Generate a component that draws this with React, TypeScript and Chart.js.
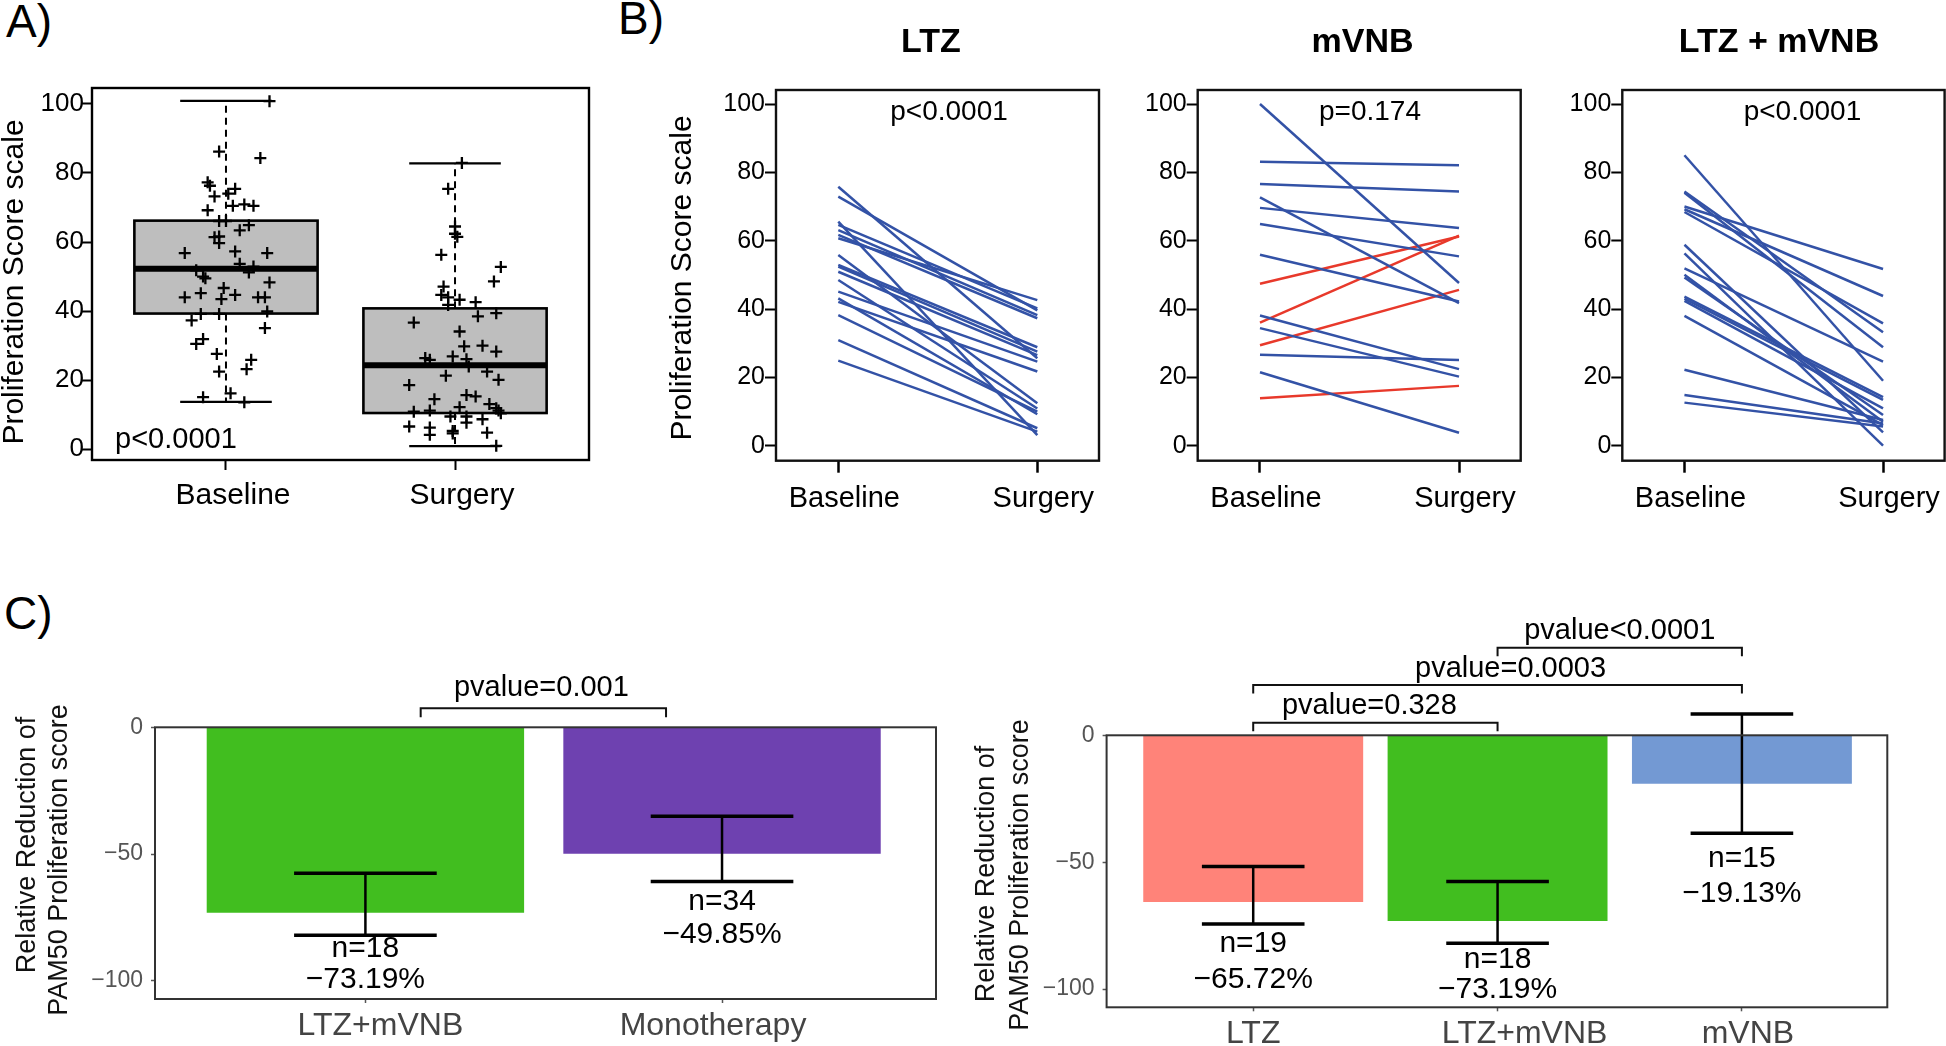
import React, { useEffect, useRef } from 'react';
import { Chart, registerables } from 'chart.js';

Chart.register(...registerables);

const FONT = '"Liberation Sans", Arial, Helvetica, sans-serif';

/* ================= DATA ================= */
// Panel A – box plot + jittered points
const groupsA = ['Baseline', 'Surgery'];
const whiskerLowA = [13.7, 0.9];
const q1A = [39.3, 10.5];
const medianA = [52.3, 24.3];
const q3A = [66.2, 40.8];
const whiskerHighA = [100.9, 82.8];
const baselineScores = [100.8, 86.2, 84.3, 77.3, 76.3, 73.2, 75.4, 74.0, 69.2, 70.5, 70.9, 70.5, 66.1, 66.1, 64.9, 63.4, 61.4, 61.6, 59.7, 56.8, 57.3, 56.8, 53.7, 52.9, 51.2, 51.8, 50.0, 49.5, 48.3, 46.7, 44.7, 43.5, 44.0, 45.2, 44.0, 44.0, 39.2, 39.2, 39.9, 37.3, 35.1, 31.9, 30.5, 27.6, 25.9, 23.2, 22.5, 16.2, 15.1, 13.6];
const baselineJitter = [0.19, -0.03, 0.15, -0.08, -0.07, -0.05, 0.04, 0.01, -0.08, 0.03, 0.08, 0.12, -0.03, 0.0, 0.10, 0.06, -0.05, -0.03, -0.03, -0.18, 0.04, 0.18, 0.06, 0.12, 0.10, -0.13, -0.10, -0.09, 0.19, -0.01, 0.04, -0.02, -0.18, -0.11, 0.14, 0.17, -0.11, -0.03, 0.18, -0.15, 0.17, -0.10, -0.13, -0.04, 0.11, 0.09, -0.03, 0.02, -0.10, 0.08];
const surgeryScores = [82.9, 75.4, 64.5, 62.4, 61.5, 56.3, 52.8, 48.6, 47.1, 44.7, 44.0, 43.3, 42.6, 41.8, 39.4, 38.5, 36.7, 34.1, 29.8, 30.0, 28.3, 26.4, 25.9, 26.9, 26.1, 24.0, 21.3, 22.5, 20.1, 18.6, 14.5, 15.7, 15.3, 13.1, 11.9, 11.2, 12.2, 11.2, 10.9, 10.4, 9.5, 9.5, 8.7, 7.7, 6.6, 6.3, 4.2, 5.3, 4.6, 4.8, 1.0];
const surgeryJitter = [0.03, -0.03, 0.0, 0.0, 0.01, -0.06, 0.20, 0.17, -0.05, -0.06, -0.03, 0.02, 0.09, -0.03, 0.18, 0.10, -0.18, 0.02, 0.04, 0.12, 0.18, -0.13, -0.11, -0.01, 0.05, 0.06, -0.04, 0.14, 0.19, -0.20, -0.09, 0.05, 0.09, 0.15, 0.18, 0.19, 0.02, -0.11, -0.18, 0.20, -0.02, 0.05, 0.12, 0.05, -0.20, -0.11, -0.11, -0.01, -0.01, 0.14, 0.18];
const yTicksA = [0, 20, 40, 60, 80, 100];

// Panel B – paired lines
const timepoints = ['Baseline', 'Surgery'];
const ltzBaseline = [75.8, 72.9, 65.6, 64.6, 63.1, 61.7, 60.7, 55.8, 52.9, 52.4, 50.9, 48.5, 45.1, 43.1, 42.1, 38.2, 30.9, 24.9];
const ltzSurgery = [25.6, 39.6, 3.1, 40.2, 38.2, 37.3, 42.6, 12.4, 28.8, 27.5, 26.5, 10.9, 24.6, 9.2, 21.7, 10.0, 5.1, 4.1];
const mvnbBaseline = [100.0, 83.1, 76.6, 72.7, 69.6, 64.9, 55.9, 38.1, 34.4, 26.6, 21.5, 47.4, 36.0, 29.4, 13.9];
const mvnbSurgery = [47.6, 82.1, 74.4, 41.7, 63.7, 55.4, 42.2, 22.4, 20.2, 25.1, 3.8, 61.2, 61.5, 45.6, 17.5];
const comboBaseline = [85.0, 74.4, 74.0, 70.0, 69.2, 68.4, 58.8, 56.3, 51.9, 50.0, 49.2, 43.6, 43.0, 42.4, 38.0, 22.2, 14.8, 12.6];
const comboSurgery = [19.0, 33.2, 28.8, 51.7, 43.8, 35.8, 3.9, 0.0, 24.6, 7.0, 9.0, 14.2, 13.4, 10.9, 6.0, 7.5, 6.5, 5.6];
const yTicksB = [0, 20, 40, 60, 80, 100];

// Panel C – bars with error bars
const catsC1 = ['LTZ+mVNB', 'Monotherapy'];
const meansC1 = [-73.19, -49.85];
const upperC1 = [-57.6, -35.1];
const lowerC1 = [-82.0, -60.8];
const nC1 = [18, 34];
const colorsC1 = ['#41be1f', '#6e41b0'];

const catsC2 = ['LTZ', 'LTZ+mVNB', 'mVNB'];
const meansC2 = [-65.72, -73.19, -19.13];
const upperC2 = [-51.7, -57.6, 8.4];
const lowerC2 = [-74.4, -82.0, -38.6];
const nC2 = [19, 18, 15];
const colorsC2 = ['#ff8379', '#41be1f', '#7399d3'];
const yTicksC = [0, -50, -100];

/* ================= HELPERS ================= */
type Box = { x: number; y: number; w: number; h: number };
type Frame = { L: number; T: number; R: number; B: number };
type TextItem = { text: string; x: number; y: number; size: number; bold?: boolean; align?: string; baseline?: string; rotate?: boolean; color?: string };

function padFor(cv: Box, fr: Frame) {
  return { left: 0, top: fr.T - cv.y, right: cv.x + cv.w - fr.R, bottom: 0 };
}

function yAxis(o: any) {
  return {
    type: 'linear', position: 'left', min: o.min, max: o.max,
    afterBuildTicks: (s: any) => { s.ticks = o.ticks.map((v: number) => ({ value: v })); },
    afterFit: (s: any) => { s.width = o.width; },
    border: { display: false },
    grid: { display: true, drawOnChartArea: false, drawTicks: true, tickLength: o.tickLen, tickWidth: o.tickWidth, tickColor: o.tickColor, color: o.tickColor },
    ticks: { autoSkip: false, font: { family: FONT, size: o.size, lineHeight: 1 }, color: o.color, padding: o.pad, callback: o.fmt || ((v: number) => String(v)) },
  };
}

function xAxis(o: any) {
  return {
    type: 'linear', position: 'bottom', min: o.min, max: o.max, offset: false,
    afterBuildTicks: (s: any) => { s.ticks = o.values.map((v: number) => ({ value: v })); },
    afterFit: (s: any) => { s.height = o.height; },
    border: { display: false },
    grid: { display: true, offset: false, drawOnChartArea: false, drawTicks: true, tickLength: o.tickLen, tickWidth: o.tickWidth, tickColor: o.tickColor, color: o.tickColor },
    ticks: { display: o.showLabels !== false, autoSkip: false, maxRotation: 0, labelOffset: o.labelOffset || 0, font: { family: FONT, size: o.size, lineHeight: 1 }, color: o.color, padding: o.pad, callback: (_v: number, i: number) => o.labels[i] },
  };
}

function framePlugin(id: string, color: string, width: number) {
  return {
    id,
    afterDraw(chart: any) {
      const { ctx, chartArea: a } = chart;
      ctx.save();
      ctx.strokeStyle = color;
      ctx.lineWidth = width;
      ctx.strokeRect(a.left, a.top, a.right - a.left, a.bottom - a.top);
      ctx.restore();
    },
  };
}

function textPlugin(id: string, cv: Box, items: TextItem[]) {
  return {
    id,
    afterDraw(chart: any) {
      const ctx = chart.ctx;
      items.forEach((it) => {
        ctx.save();
        ctx.translate(it.x - cv.x, it.y - cv.y);
        if (it.rotate) ctx.rotate(-Math.PI / 2);
        ctx.font = `${it.bold ? 'bold ' : ''}${it.size}px ${FONT}`;
        ctx.fillStyle = it.color || '#000';
        ctx.textAlign = (it.align || 'center') as CanvasTextAlign;
        ctx.textBaseline = (it.baseline || 'middle') as CanvasTextBaseline;
        ctx.fillText(it.text, 0, 0);
        ctx.restore();
      });
    },
  };
}

const baseOptions = {
  responsive: false,
  animation: false,
  devicePixelRatio: 1,
  events: [],
};

/* ================= PANEL A ================= */
const cvA: Box = { x: 0, y: 0, w: 600, h: 522 };
const frA: Frame = { L: 92, T: 88, R: 589, B: 460 };

function buildA() {
  const boxPlugin = {
    id: 'boxA',
    beforeDatasetsDraw(chart: any) {
      const { ctx, scales: { x, y } } = chart;
      groupsA.forEach((_g, i) => {
        const cx = x.getPixelForValue(i + 1);
        const hw = x.getPixelForValue(i + 1.4) - cx;
        const cw = x.getPixelForValue(i + 1.2) - cx;
        const yLo = y.getPixelForValue(whiskerLowA[i]);
        const yQ1 = y.getPixelForValue(q1A[i]);
        const yMed = y.getPixelForValue(medianA[i]);
        const yQ3 = y.getPixelForValue(q3A[i]);
        const yHi = y.getPixelForValue(whiskerHighA[i]);
        ctx.save();
        ctx.strokeStyle = '#000';
        ctx.lineWidth = 2;
        ctx.setLineDash([7, 5]);
        ctx.beginPath();
        ctx.moveTo(cx, yQ3); ctx.lineTo(cx, yHi);
        ctx.moveTo(cx, yQ1); ctx.lineTo(cx, yLo);
        ctx.stroke();
        ctx.setLineDash([]);
        ctx.lineWidth = 2.2;
        ctx.beginPath();
        ctx.moveTo(cx - cw, yHi); ctx.lineTo(cx + cw, yHi);
        ctx.moveTo(cx - cw, yLo); ctx.lineTo(cx + cw, yLo);
        ctx.stroke();
        ctx.fillStyle = '#bebebe';
        ctx.fillRect(cx - hw, yQ3, 2 * hw, yQ1 - yQ3);
        ctx.lineWidth = 2.6;
        ctx.strokeRect(cx - hw, yQ3, 2 * hw, yQ1 - yQ3);
        ctx.lineWidth = 6;
        ctx.beginPath();
        ctx.moveTo(cx - hw, yMed); ctx.lineTo(cx + hw, yMed);
        ctx.stroke();
        ctx.restore();
      });
    },
  };
  const pointsStyle = { pointStyle: 'cross', radius: 6, borderWidth: 2.3, borderColor: '#000', backgroundColor: '#000' };
  return {
    type: 'scatter',
    data: {
      datasets: [
        { ...pointsStyle, data: baselineScores.map((v, i) => ({ x: 1 + baselineJitter[i], y: v })) },
        { ...pointsStyle, data: surgeryScores.map((v, i) => ({ x: 2 + surgeryJitter[i], y: v })) },
      ],
    },
    options: {
      ...baseOptions,
      layout: { padding: padFor(cvA, frA) },
      plugins: { legend: { display: false }, tooltip: { enabled: false } },
      scales: {
        x: xAxis({ min: 0.415, max: 2.585, values: [1, 2], labels: groupsA, height: cvA.y + cvA.h - frA.B, tickLen: 10, tickWidth: 2, tickColor: '#000', size: 30, color: '#000', pad: 11, labelOffset: 7 }),
        y: yAxis({ min: -3.1, max: 104.6, ticks: yTicksA, width: frA.L - cvA.x, tickLen: 11, tickWidth: 2, tickColor: '#000', size: 26, color: '#000', pad: -3 }),
      },
    },
    plugins: [
      boxPlugin,
      framePlugin('frameA', '#000', 2.4),
      textPlugin('textA', cvA, [
        { text: 'Proliferation Score scale', x: 15, y: 282, size: 30, rotate: true },
        { text: 'p<0.0001', x: 115, y: 448, size: 29, align: 'left', baseline: 'alphabetic' },
      ]),
    ],
  };
}

/* ================= PANEL B ================= */
const cvB1: Box = { x: 650, y: 0, w: 460, h: 522 };
const frB1: Frame = { L: 776, T: 90, R: 1099, B: 460.7 };
const cvB2: Box = { x: 1120, y: 0, w: 410, h: 522 };
const frB2: Frame = { L: 1197.7, T: 90, R: 1520.7, B: 460.7 };
const cvB3: Box = { x: 1540, y: 0, w: 406, h: 522 };
const frB3: Frame = { L: 1622.3, T: 90, R: 1945, B: 460.7 };

function buildB(key: string, cv: Box, fr: Frame, base: number[], surg: number[], title: string, pText: string, titleDx: number, pDx: number, withYTitle: boolean) {
  const cxPage = (fr.L + fr.R) / 2;
  const texts: TextItem[] = [
    { text: title, x: cxPage + titleDx, y: 52, size: 34, bold: true, baseline: 'alphabetic' },
    { text: pText, x: cxPage + pDx, y: 120, size: 28, baseline: 'alphabetic' },
  ];
  if (withYTitle) texts.push({ text: 'Proliferation Score scale', x: 683, y: 278, size: 30, rotate: true });
  return {
    type: 'scatter',
    data: {
      datasets: base.map((b, i) => ({
        data: [{ x: 1, y: b }, { x: 2, y: surg[i] }],
        showLine: true,
        borderColor: surg[i] > b ? '#e8392b' : '#3352a6',
        borderWidth: 2.5,
        pointRadius: 0,
      })),
    },
    options: {
      ...baseOptions,
      layout: { padding: padFor(cv, fr) },
      plugins: { legend: { display: false }, tooltip: { enabled: false } },
      scales: {
        x: xAxis({ min: 0.687, max: 2.31, values: [1, 2], labels: timepoints, height: cv.y + cv.h - fr.B, tickLen: 12, tickWidth: 2.5, tickColor: '#000', size: 29, color: '#000', pad: 12, labelOffset: 6 }),
        y: yAxis({ min: -4.4, max: 104.1, ticks: yTicksB, width: fr.L - cv.x, tickLen: 11, tickWidth: 2, tickColor: '#000', size: 25, color: '#000', pad: 0 }),
      },
    },
    plugins: [framePlugin('frame' + key, '#111', 2.4), textPlugin('text' + key, cv, texts)],
  };
}

/* ================= PANEL C ================= */
const cvC1: Box = { x: 0, y: 600, w: 950, h: 446 };
const frC1: Frame = { L: 155, T: 727.3, R: 936, B: 999 };
const cvC2: Box = { x: 960, y: 600, w: 986, h: 446 };
const frC2: Frame = { L: 1106.6, T: 735.3, R: 1887.3, B: 1007.3 };

type Bracket = { from: number; to: number; rise: number; text: string; dx: number };

function buildC(key: string, cv: Box, fr: Frame, cats: string[], means: number[], upper: number[], lower: number[], ns: number[], colors: string[],
  xMin: number, xMax: number, barPct: number, capUnits: number, labelDx: number[], labelDy: number, nDy: number[], pctDy: number[],
  brackets: Bracket[], tip: number, gap: number, titles: TextItem[]) {
  const annotate = {
    id: 'annot' + key,
    afterDatasetsDraw(chart: any) {
      const { ctx, scales: { x, y }, chartArea } = chart;
      ctx.save();
      means.forEach((m, i) => {
        const px = x.getPixelForValue(i);
        const cap = x.getPixelForValue(i + capUnits) - px;
        const yT = y.getPixelForValue(upper[i]);
        const yB = y.getPixelForValue(lower[i]);
        ctx.strokeStyle = '#000';
        ctx.lineWidth = 2.5;
        ctx.beginPath(); ctx.moveTo(px, yT); ctx.lineTo(px, yB); ctx.stroke();
        ctx.lineWidth = 3.5;
        ctx.beginPath();
        ctx.moveTo(px - cap, yT); ctx.lineTo(px + cap, yT);
        ctx.moveTo(px - cap, yB); ctx.lineTo(px + cap, yB);
        ctx.stroke();
        ctx.fillStyle = '#000';
        ctx.font = `30px ${FONT}`;
        ctx.textAlign = 'center';
        ctx.textBaseline = 'middle';
        ctx.fillText(`n=${ns[i]}`, px, yB + nDy[i]);
        ctx.fillText(`${m < 0 ? '\u2212' : ''}${Math.abs(m).toFixed(2)}%`, px, yB + pctDy[i]);
      });
      // category labels below the axis
      ctx.fillStyle = '#444';
      ctx.font = `32px ${FONT}`;
      ctx.textAlign = 'center';
      ctx.textBaseline = 'middle';
      cats.forEach((c, i) => ctx.fillText(c, x.getPixelForValue(i) + labelDx[i], chartArea.bottom + labelDy));
      // significance brackets
      ctx.strokeStyle = '#111';
      ctx.lineWidth = 2;
      ctx.fillStyle = '#000';
      ctx.font = `29px ${FONT}`;
      ctx.textBaseline = 'alphabetic';
      brackets.forEach((b) => {
        const x1 = x.getPixelForValue(b.from);
        const x2 = x.getPixelForValue(b.to);
        const yb = chartArea.top - b.rise;
        ctx.beginPath();
        ctx.moveTo(x1, yb + tip); ctx.lineTo(x1, yb); ctx.lineTo(x2, yb); ctx.lineTo(x2, yb + tip);
        ctx.stroke();
        ctx.fillText(b.text, (x1 + x2) / 2 + b.dx, yb - gap);
      });
      ctx.restore();
    },
  };
  return {
    type: 'bar',
    data: {
      datasets: [{
        data: means.map((m, i) => ({ x: i, y: m })),
        backgroundColor: colors,
        borderWidth: 0,
        categoryPercentage: 1,
        barPercentage: barPct,
      }],
    },
    options: {
      ...baseOptions,
      layout: { padding: padFor(cv, fr) },
      plugins: { legend: { display: false }, tooltip: { enabled: false } },
      scales: {
        x: xAxis({ min: xMin, max: xMax, values: cats.map((_c, i) => i), labels: cats, height: cv.y + cv.h - fr.B, tickLen: 4, tickWidth: 1.5, tickColor: '#555', size: 30, color: '#444', pad: 6, showLabels: false }),
        y: yAxis({ min: -107.2, max: 0, ticks: yTicksC, width: fr.L - cv.x, tickLen: 4, tickWidth: 1.5, tickColor: '#555', size: 23, color: '#555', pad: 8, fmt: (v: number) => String(v).replace('-', '\u2212') }),
      },
    },
    plugins: [annotate, framePlugin('frame' + key, '#333', 2), textPlugin('text' + key, cv, titles)],
  };
}

/* ================= COMPONENTS ================= */
function ChartCanvas({ box, build }: { box: Box; build: () => any }) {
  const ref = useRef<HTMLCanvasElement | null>(null);
  useEffect(() => {
    if (!ref.current) return;
    const chart = new Chart(ref.current, build());
    return () => chart.destroy();
  }, []);
  return (
    <canvas ref={ref} width={box.w} height={box.h}
      style={{ position: 'absolute', left: box.x, top: box.y, width: box.w, height: box.h }} />
  );
}

const panelLabel = (left: number, top: number): React.CSSProperties => ({
  position: 'absolute', left, top, fontFamily: FONT, fontSize: 46, lineHeight: '46px', color: '#000', margin: 0,
});

export default function App() {
  return (
    <div style={{ position: 'absolute', left: 0, top: 0, width: 1946, height: 1046, background: '#fff', overflow: 'hidden' }}>
      <div style={panelLabel(6, -2)}>A)</div>
      <div style={panelLabel(618, -5)}>B)</div>
      <div style={panelLabel(4, 590)}>C)</div>
      <ChartCanvas box={cvA} build={buildA} />
      <ChartCanvas box={cvB1} build={() => buildB('B1', cvB1, frB1, ltzBaseline, ltzSurgery, 'LTZ', 'p<0.0001', -6.5, 11.5, true)} />
      <ChartCanvas box={cvB2} build={() => buildB('B2', cvB2, frB2, mvnbBaseline, mvnbSurgery, 'mVNB', 'p=0.174', 3.3, 10.8, false)} />
      <ChartCanvas box={cvB3} build={() => buildB('B3', cvB3, frB3, comboBaseline, comboSurgery, 'LTZ + mVNB', 'p<0.0001', -4.7, 18.8, false)} />
      <ChartCanvas box={cvC1} build={() => buildC('C1', cvC1, frC1, catsC1, meansC1, upperC1, lowerC1, nC1, colorsC1,
        -0.59, 1.6, 0.89, 0.2, [15, -9], 27, [14, 20], [45, 53],
        [{ from: 0.155, to: 0.843, rise: 19, text: 'pvalue=0.001', dx: -2 }], 9, 12,
        [
          { text: 'Relative Reduction of', x: 27.5, y: 845, size: 27, rotate: true, color: '#111' },
          { text: 'PAM50 Proliferation score', x: 60, y: 860, size: 27, rotate: true, color: '#111' },
        ])} />
      <ChartCanvas box={cvC2} build={() => buildC('C2', cvC2, frC2, catsC2, meansC2, upperC2, lowerC2, nC2, colorsC2,
        -0.6, 2.595, 0.9, 0.21, [0, 27, 6], 27, [20, 16, 25], [56, 46, 60],
        [
          { from: 0, to: 1, rise: 12.6, text: 'pvalue=0.328', dx: -6 },
          { from: 0, to: 2, rise: 50.3, text: 'pvalue=0.0003', dx: 13 },
          { from: 1, to: 2, rise: 87.6, text: 'pvalue<0.0001', dx: 0 },
        ], 8.5, 8.5,
        [
          { text: 'Relative Reduction of', x: 987, y: 874, size: 27, rotate: true, color: '#111' },
          { text: 'PAM50 Proliferation score', x: 1021, y: 875, size: 27, rotate: true, color: '#111' },
        ])} />
    </div>
  );
}
